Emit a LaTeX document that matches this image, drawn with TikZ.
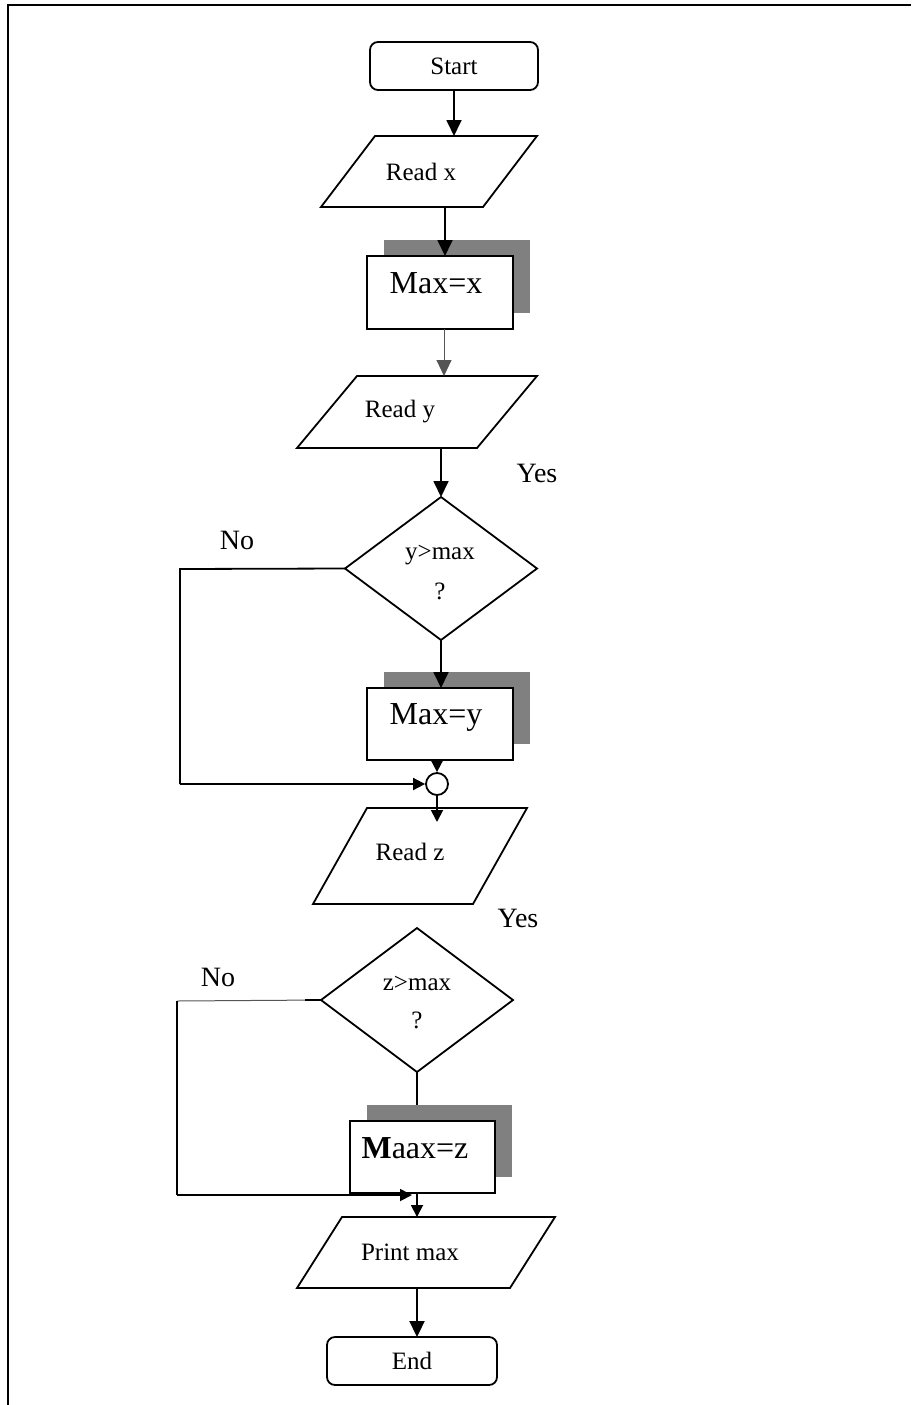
\documentclass[tikz,border=0pt]{standalone}
\usepackage{fontspec}
\setmainfont{Liberation Serif}
\usetikzlibrary{arrows.meta,shadows,calc}
\definecolor{shadegray}{HTML}{808080}
\definecolor{thingray}{HTML}{555555}
\begin{document}
\begin{tikzpicture}[x=1pt,y=-1pt,
  ln/.style={line width=1.8pt, line join=miter},
  thin/.style={line width=1pt, draw=thingray},
  arr/.style={ln, -{Triangle[length=16pt,width=15pt]}},
  smallarr/.style={ln, -{Triangle[length=12pt,width=12pt]}},
  frame/.style={rectangle, inner sep=0pt, outer sep=0pt},
  term/.style={frame, draw, ln, rounded corners=8pt, font=\fontsize{25}{29}\selectfont},
  procbox/.style={frame, draw, ln, fill=white,
    drop shadow={shadow xshift=17pt, shadow yshift=16pt, fill=shadegray, opacity=1}},
  txt/.style={inner sep=0pt, font=\fontsize{25}{29}\selectfont},
  bigtxt/.style={inner sep=0pt, font=\fontsize{32}{37}\selectfont},
  lbl/.style={inner sep=0pt, font=\fontsize{28}{32}\selectfont}]

\useasboundingbox (0,0) rectangle (911,1405);

% page frame
\draw[line width=2.4pt] (911,5) -- (8,5) -- (8,1405);

% ---------- nodes ----------
\node[term, minimum width=168pt, minimum height=48pt] (st) at (454,66) {Start};

\node[frame, minimum width=216pt, minimum height=71pt] (rx) at (429,171.5) {};
\draw[ln] ([xshift=54pt]rx.north west) -- (rx.north east) -- ([xshift=-54pt]rx.south east) -- (rx.south west) -- cycle;
\node[txt] (rxt) at (421,172) {Read x};

\node[procbox, minimum width=146pt, minimum height=73pt] (mx) at (440,292.5) {};
\node[bigtxt] (mxt) at (436,283) {Max=x};

\node[frame, minimum width=240pt, minimum height=72pt] (ry) at (417,412) {};
\draw[ln] ([xshift=60pt]ry.north west) -- (ry.north east) -- ([xshift=-60pt]ry.south east) -- (ry.south west) -- cycle;
\node[txt] (ryt) at (400,412) {Read y};

\node[frame, minimum width=192pt, minimum height=143pt] (dy) at (441,568.5) {};
\draw[ln] (dy.north) -- (dy.east) -- (dy.south) -- (dy.west) -- cycle;
\node[txt] (dyt1) at (440,555) {y>max};
\node[txt] (dyt2) at (440,591) {?};

\node[procbox, minimum width=146pt, minimum height=72pt] (my) at (440,724) {};
\node[bigtxt] (myt) at (436,717) {Max=y};

\node[circle, draw, ln, minimum size=22pt, inner sep=0pt] (jn) at (437,784) {};

\node[frame, minimum width=214pt, minimum height=96pt] (rz) at (420,856) {};
\draw[ln] ([xshift=54pt]rz.north west) -- (rz.north east) -- ([xshift=-54pt]rz.south east) -- (rz.south west) -- cycle;
\node[txt] (rzt) at (410,852) {Read z};

\node[frame, minimum width=192pt, minimum height=144pt] (dz) at (417,1000) {};
\draw[ln] (dz.north) -- (dz.east) -- (dz.south) -- (dz.west) -- cycle;
\node[txt] (dzt1) at (417,983) {z>max};
\node[txt] (dzt2) at (417,1020) {?};

\node[procbox, minimum width=145pt, minimum height=72pt] (mz) at (422.5,1157) {};
\node[bigtxt] (mzt) at (415,1148) {\textbf{M}aax=z};

\node[frame, minimum width=258pt, minimum height=71pt] (pm) at (426,1252.5) {};
\draw[ln] ([xshift=45pt]pm.north west) -- (pm.north east) -- ([xshift=-45pt]pm.south east) -- (pm.south west) -- cycle;
\node[txt] (pmt) at (410,1252) {Print max};

\node[term, minimum width=170pt, minimum height=48pt] (en) at (412,1361) {End};

% branch labels
\node[lbl] (yes1) at (537,473) {Yes};
\node[lbl] (no1) at (237,540) {No};
\node[lbl] (yes2) at (518,918) {Yes};
\node[lbl] (no2) at (218,977) {No};

% corner points of the "No" loops
\coordinate (cy1) at (180,569);
\coordinate (cy2) at (180,784);
\coordinate (cz1) at (177,1001);
\coordinate (cz2) at (177,1195);
\coordinate (mzin) at (417,1195);

% ---------- connectors ----------
\draw[arr] (st.south) -- (st.south |- rx.north);
\draw[arr] ([xshift=5pt]mx.north |- rx.south) -- ([xshift=5pt]mx.north);
\draw[thin, -{Triangle[length=16pt,width=15pt]}] ([xshift=4pt]mx.south) -- ([xshift=4pt]mx.south |- ry.north);
\draw[arr] (dy.north |- ry.south) -- (dy.north);
\draw[arr] (dy.south) -- (dy.south |- my.north);
\draw[smallarr] (jn.north |- my.south) -- (jn.north);
\draw[ln] (dy.west) -- (cy1) -- (cy2);
\draw[smallarr] (cy2) -- (jn.west);
\draw[smallarr, shorten >=-14pt] (jn.south) -- (jn.south |- rz.north);
\draw[ln] (dz.south) -- ([yshift=16pt]dz.south |- mz.north);
\draw[thin] (dz.west) -- (cz1);
\draw[ln] ([xshift=-16pt]dz.west) -- (dz.west);
\draw[ln] (cz1) -- (cz2);
\draw[smallarr, shorten >=5pt] (cz2) -- (mzin);
\draw[smallarr] (dz.south |- mz.south) -- (dz.south |- pm.north);
\draw[arr, line width=2.2pt] (dz.south |- pm.south) -- (dz.south |- en.north);

\end{tikzpicture}
\end{document}
